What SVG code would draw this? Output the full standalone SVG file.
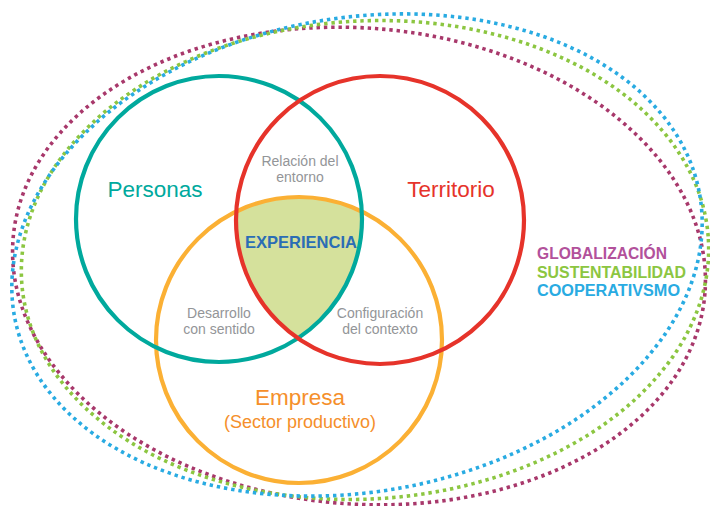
<svg xmlns="http://www.w3.org/2000/svg" width="710" height="506" viewBox="0 0 710 506">
<style>
.dot{fill:none;stroke-width:3.6;stroke-dasharray:3.4 3.9}
.ring{fill:none;stroke-width:4.2}
text{font-family:"Liberation Sans",Arial,sans-serif}
.big{font-size:22.5px}
.small{font-size:14px;fill:#939598;text-anchor:middle}
.side{font-size:16px;font-weight:bold}
</style>
<rect width="710" height="506" fill="#ffffff"/>
<g id="contexts">
<ellipse class="dot" cx="359" cy="266" rx="347" ry="238" transform="rotate(4.5 359 266)" stroke="#a8386b"/>
<ellipse class="dot" cx="365" cy="260" rx="344" ry="239" transform="rotate(-3.5 365 260)" stroke="#8cc641"/>
<ellipse class="dot" cx="357" cy="255" rx="348" ry="237" transform="rotate(-10 357 255)" stroke="#29abe2"/>
</g>
<g id="experiencia-area">
<path d="M237.3 211.1 A143 143 0 0 1 361.8 211.6 A143 143 0 0 1 299 338 A144 144 0 0 1 237.3 211.1 Z" fill="#d5e19c"/>
</g>
<g id="empresa">
<circle class="ring" cx="299" cy="340" r="143" stroke="#fbb034"/>
<text class="big" x="300" y="405" text-anchor="middle" fill="#f58f2b" font-size="23">Empresa</text>
<text x="300" y="428" text-anchor="middle" fill="#f58f2b" font-size="18">(Sector productivo)</text>
</g>
<g id="personas">
<circle class="ring" cx="219" cy="219" r="143" stroke="#00a99d"/>
<text class="big" x="155" y="197" text-anchor="middle" fill="#00a99d">Personas</text>
</g>
<g id="territorio">
<circle class="ring" cx="380" cy="220" r="144" stroke="#e6332a"/>
<text class="big" x="451" y="197" text-anchor="middle" fill="#e6332a">Territorio</text>
</g>
<g id="relacion">
<text class="small" x="300" y="166">Relación del</text>
<text class="small" x="300" y="182">entorno</text>
</g>
<g id="experiencia">
<text x="301" y="248" text-anchor="middle" font-size="16.5" font-weight="bold" fill="#2b6db5">EXPERIENCIA</text>
</g>
<g id="desarrollo">
<text class="small" x="219" y="318">Desarrollo</text>
<text class="small" x="219" y="334">con sentido</text>
</g>
<g id="configuracion">
<text class="small" x="380" y="318">Configuración</text>
<text class="small" x="380" y="334">del contexto</text>
</g>
<g id="labels">
<text class="side" x="537" y="259" fill="#b2519b" textLength="130" lengthAdjust="spacingAndGlyphs">GLOBALIZACIÓN</text>
<text class="side" x="537" y="277.5" fill="#8cc641" textLength="149" lengthAdjust="spacingAndGlyphs">SUSTENTABILIDAD</text>
<text class="side" x="537" y="296" fill="#29abe2" textLength="143" lengthAdjust="spacingAndGlyphs">COOPERATIVSMO</text>
</g>
</svg>
